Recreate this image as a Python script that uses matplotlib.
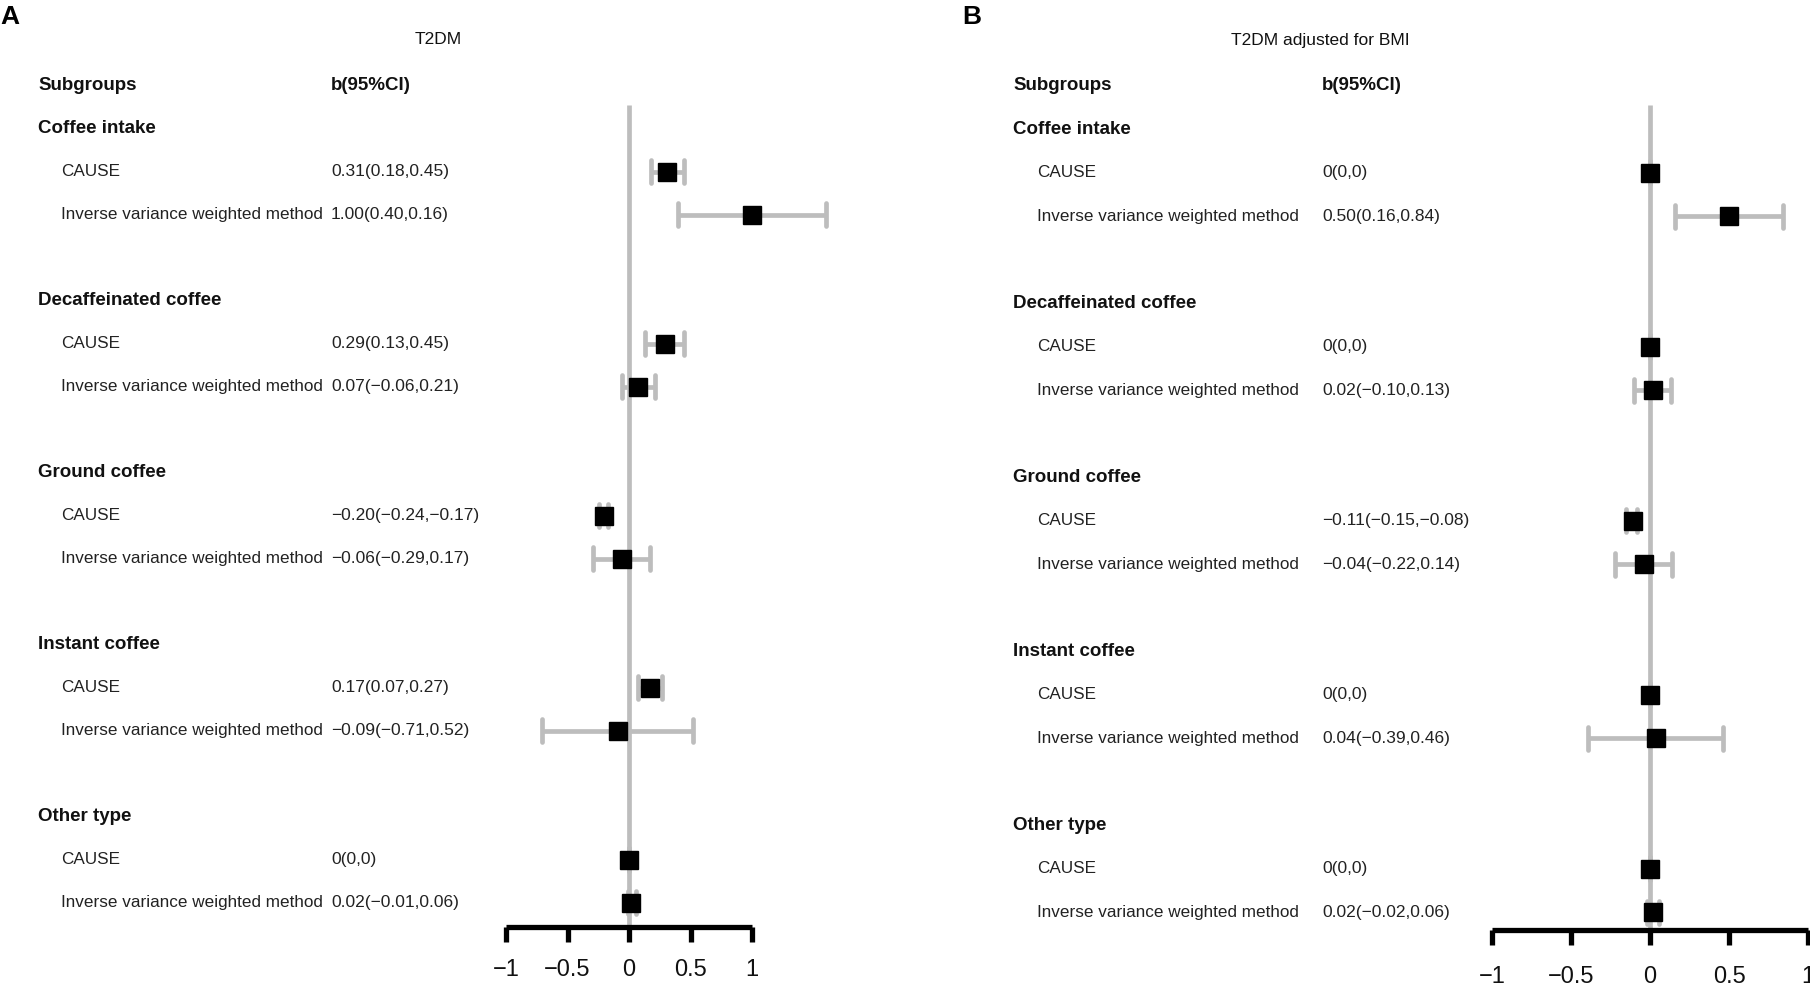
import matplotlib
matplotlib.use("Agg")
import matplotlib.pyplot as plt
from matplotlib.transforms import blended_transform_factory

plt.rcParams['font.family'] = ['Liberation Sans', 'DejaVu Sans']

W, H = 1810, 985
DPI = 100

# ---------------- data ----------------
groups = ["Coffee intake", "Decaffeinated coffee", "Ground coffee", "Instant coffee", "Other type"]
methods = ["CAUSE", "Inverse variance weighted method"]

# Panel A: T2DM  (order: for each group CAUSE then IVW)
est_A = [0.31, 1.00, 0.29, 0.07, -0.20, -0.06, 0.17, -0.09, 0.00, 0.02]
lo_A = [0.18, 0.40, 0.13, -0.06, -0.24, -0.29, 0.07, -0.71, 0.00, -0.01]
hi_A = [0.45, 1.60, 0.45, 0.21, -0.17, 0.17, 0.27, 0.52, 0.00, 0.06]
txt_A = ["0.31(0.18,0.45)", "1.00(0.40,0.16)",
         "0.29(0.13,0.45)", "0.07(\u22120.06,0.21)",
         "\u22120.20(\u22120.24,\u22120.17)", "\u22120.06(\u22120.29,0.17)",
         "0.17(0.07,0.27)", "\u22120.09(\u22120.71,0.52)",
         "0(0,0)", "0.02(\u22120.01,0.06)"]

# Panel B: T2DM adjusted for BMI
est_B = [0.00, 0.50, 0.00, 0.02, -0.11, -0.04, 0.00, 0.04, 0.00, 0.02]
lo_B = [0.00, 0.16, 0.00, -0.10, -0.15, -0.22, 0.00, -0.39, 0.00, -0.02]
hi_B = [0.00, 0.84, 0.00, 0.13, -0.08, 0.14, 0.00, 0.46, 0.00, 0.06]
txt_B = ["0(0,0)", "0.50(0.16,0.84)",
         "0(0,0)", "0.02(\u22120.10,0.13)",
         "\u22120.11(\u22120.15,\u22120.08)", "\u22120.04(\u22120.22,0.14)",
         "0(0,0)", "0.04(\u22120.39,0.46)",
         "0(0,0)", "0.02(\u22120.02,0.06)"]

ticks = [-1, -0.5, 0, 0.5, 1]
tick_labels = ["\u22121", "\u22120.5", "0", "0.5", "1"]

# ---------------- layout ----------------
panels = [
    dict(letter="A", title="T2DM", est=est_A, lo=lo_A, hi=hi_A, txt=txt_A,
         zero=629, scale=123, row0=85.5, step=43.0, axis_y=927, pad=12,
         head_x=38, sub_x=61, val_x=331, title_x=438, letter_x=0,
         left=470, right=880),
    dict(letter="B", title="T2DM adjusted for BMI", est=est_B, lo=lo_B, hi=hi_B, txt=txt_B,
         zero=1650, scale=158, row0=85.5, step=43.5, axis_y=930, pad=15,
         head_x=1013, sub_x=1037, val_x=1322, title_x=1320, letter_x=962,
         left=1460, right=1810),
]

fig = plt.figure(figsize=(W / DPI, H / DPI), dpi=DPI)
fig.patch.set_facecolor("white")

GRAY = "#bdbdbd"
LW = 3.4

for p in panels:
    top_px = 60
    ax = fig.add_axes([p["left"] / W, 1 - p["axis_y"] / H,
                       (p["right"] - p["left"]) / W, (p["axis_y"] - top_px) / H])
    ax.set_facecolor("none")
    ax.set_xlim((p["left"] - p["zero"]) / p["scale"], (p["right"] - p["zero"]) / p["scale"])
    ybot = (p["axis_y"] - p["row0"]) / p["step"]
    ytop = (top_px - p["row0"]) / p["step"]
    ax.set_ylim(ybot, ytop)
    for s in ["top", "left", "right"]:
        ax.spines[s].set_visible(False)
    ax.spines["bottom"].set_bounds(-1, 1)
    ax.spines["bottom"].set_linewidth(3.8)
    ax.spines["bottom"].set_capstyle("butt")
    ax.set_yticks([])
    ax.set_xticks(ticks)
    ax.set_xticklabels(tick_labels)
    ax.tick_params(axis="x", direction="out", length=11, width=3.8, labelsize=17,
                   pad=p["pad"], colors="black")
    for lab in ax.get_xticklabels():
        lab.set_color("#111111")

    trans = blended_transform_factory(fig.transFigure, ax.transData)

    # zero line
    ax.plot([0, 0], [1 - 0.55, ybot], color=GRAY, lw=LW, zorder=1, solid_capstyle="butt",
            clip_on=False)

    cap_h = 11.5 / p["step"]
    k = 0
    for gi, g in enumerate(groups):
        hrow = 1 + gi * 4
        ax.text(p["head_x"] / W, hrow, g, transform=trans, fontsize=13.5, fontweight="bold",
                va="center", ha="left", color="#111111")
        for mi, m in enumerate(methods):
            r = hrow + 1 + mi
            ax.text(p["sub_x"] / W, r, m, transform=trans, fontsize=12.3,
                    va="center", ha="left", color="#222222")
            ax.text(p["val_x"] / W, r, p["txt"][k], transform=trans, fontsize=12.5,
                    va="center", ha="left", color="#222222")
            lo, hi, e = p["lo"][k], p["hi"][k], p["est"][k]
            ax.plot([lo, hi], [r, r], color=GRAY, lw=LW, zorder=2, solid_capstyle="butt",
                    clip_on=False)
            for c in (lo, hi):
                ax.plot([c, c], [r - cap_h, r + cap_h], color=GRAY, lw=LW, zorder=2,
                        solid_capstyle="round", clip_on=False)
            ax.plot([e], [r], marker="s", ms=13, color="black", mec="black", mew=1,
                    zorder=4, clip_on=False)
            k += 1

    # column headers
    ax.text(p["head_x"] / W, 0, "Subgroups", transform=trans, fontsize=13.5,
            fontweight="bold", va="center", ha="left", color="#111111")
    ax.text(p["val_x"] / W, 0, "b(95%CI)", transform=trans, fontsize=13.5,
            fontweight="bold", va="center", ha="left", color="#111111")

    fig.text(p["title_x"] / W, 1 - 40 / H, p["title"], fontsize=12.5, ha="center",
             va="center", color="#111111")
    fig.text(p["letter_x"] / W, 1 - 17 / H, p["letter"], fontsize=19, fontweight="bold",
             ha="left", va="center", color="black")

fig.savefig("out.png", dpi=DPI, facecolor="white")
